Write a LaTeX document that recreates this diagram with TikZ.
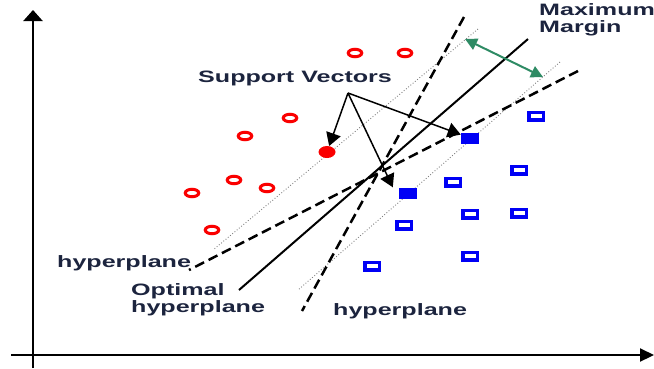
\documentclass[tikz,border=0pt]{standalone}
\usepackage{fontspec}
\setmainfont{Liberation Sans}
\usetikzlibrary{arrows.meta,shapes.geometric}
\definecolor{txt}{RGB}{28,36,62}
\definecolor{mgreen}{RGB}{46,139,100}
\definecolor{pblue}{RGB}{0,0,245}
\definecolor{pred}{RGB}{250,0,0}
\begin{document}
\begin{tikzpicture}[x=1pt,y=-1pt,
  lbl/.style={inner sep=0pt, text=txt, font=\fontsize{16.5}{17.5}\selectfont\bfseries, anchor=base west},
  redo/.style={draw=pred, line width=3pt, ellipse, minimum width=13.5pt, minimum height=7.5pt, inner sep=0pt},
  redf/.style={fill=pred, ellipse, minimum width=17pt, minimum height=12pt, inner sep=0pt},
  blueo/.style={draw=pblue, line width=3.5pt, rectangle, minimum width=14.5pt, minimum height=7.5pt, inner sep=0pt},
  bluef/.style={fill=pblue, rectangle, minimum width=18pt, minimum height=11pt, inner sep=0pt},
  axis/.style={line width=2.2pt},
  hdash/.style={line width=2.5pt, dash pattern=on 10pt off 5pt},
  margin/.style={gray, line width=0.9pt, dotted},
  svarrow/.style={line width=1.5pt, -{Triangle[width=15pt,length=13pt]}},
  marrow/.style={mgreen, line width=2pt, {Triangle[width=12pt,length=12pt]}-{Triangle[width=12pt,length=12pt]}}
]
\useasboundingbox (0,0) rectangle (654,368);
% axes
\draw[axis, -{Triangle[width=19pt,length=11pt]}] (33,368) -- (33,10);
\draw[axis, -{Triangle[width=13pt,length=14pt]}] (11,355) -- (654,355);
% margins (dotted)
\draw[margin] (478,29) -- (213,250);
\draw[margin] (560,62) -- (298,290);
% hyperplanes
\draw[hdash] (464,17) -- (302,311);
\draw[hdash] (578,71) -- (189,270);
\draw[line width=2pt] (528,39) -- (239,290);
% red points
\node[redo] (r1) at (355,53) {};
\node[redo] (r2) at (405,53) {};
\node[redo] (r3) at (290,118) {};
\node[redo] (r4) at (245,136) {};
\node[redo] (r5) at (234,180) {};
\node[redo] (r6) at (267,188) {};
\node[redo] (r7) at (192,193) {};
\node[redo] (r8) at (212,230) {};
\node[redf] (rsv) at (327,152) {};
% blue points
\node[bluef] (bsv1) at (470,138) {};
\node[bluef] (bsv2) at (408,193) {};
\node[blueo] (b1) at (536,116) {};
\node[blueo] (b2) at (453,182) {};
\node[blueo] (b3) at (519,170) {};
\node[blueo] (b4) at (470,214) {};
\node[blueo] (b5) at (519,213) {};
\node[blueo] (b6) at (404,225) {};
\node[blueo] (b7) at (470,256) {};
\node[blueo] (b8) at (372,266) {};
% labels
\node[lbl] (svl) at (198,82) {\scalebox{1.52}[1]{Support Vectors}};
\node[lbl] (hl1) at (57,267) {\scalebox{1.52}[1]{hyperplane}};
\node[lbl] (hl2) at (333,315) {\scalebox{1.52}[1]{hyperplane}};
\node[lbl] (opt) at (131,305) {\scalebox{1.52}[1]{\begin{tabular}{@{}l@{}}Optimal\\hyperplane\end{tabular}}};
\node[lbl] (mm) at (539,25) {\scalebox{1.52}[1]{\begin{tabular}{@{}l@{}}Maximum\\Margin\end{tabular}}};
% support vector arrows
\coordinate (sv) at (348,93);
\draw[svarrow] (sv) -- (rsv);
\draw[svarrow] (sv) -- (bsv1);
\draw[svarrow] (sv) -- ([xshift=-6pt]bsv2.north west);
% maximum margin arrow
\coordinate (m1) at (465,39);
\coordinate (m2) at (543,77);
\draw[marrow] (m1) -- (m2);
\end{tikzpicture}
\end{document}
